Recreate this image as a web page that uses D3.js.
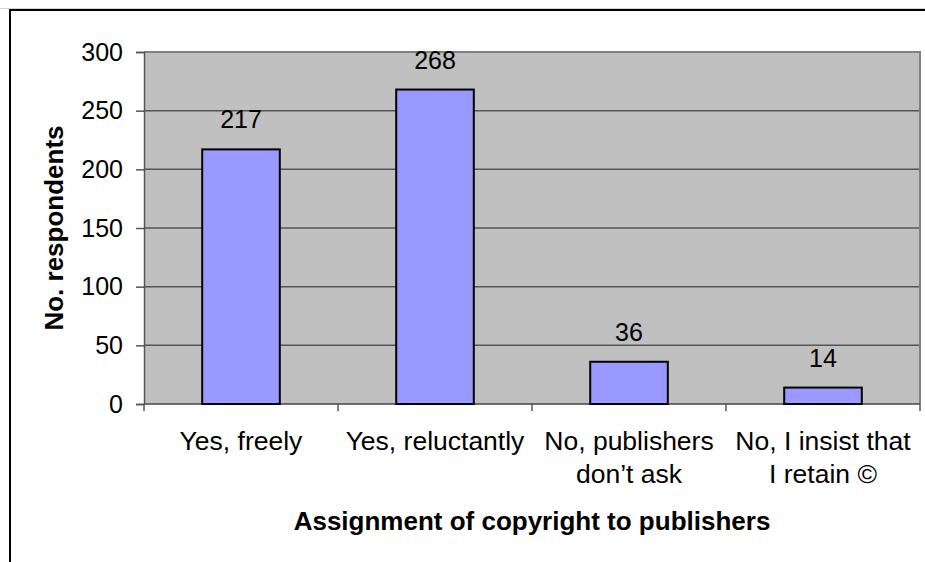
<!DOCTYPE html>
<html>
<head>
<meta charset="utf-8">
<script src="https://cdn.jsdelivr.net/npm/d3@7"></script>
<style>
  body { margin: 0; background: #fff; }
  svg text { font-family: "Liberation Sans", Arial, sans-serif; fill: #000; }
</style>
</head>
<body>
<div class="copyright-chart"></div>
<script>
// chart data
const categories = ["Yes, freely", "Yes, reluctantly", "No, publishers don’t ask", "No, I insist that I retain ©"];
const category_lines = [["Yes, freely"], ["Yes, reluctantly"], ["No, publishers", "don’t ask"], ["No, I insist that", "I retain ©"]];
const respondents = [217, 268, 36, 14];
const y_ticks = [0, 50, 100, 150, 200, 250, 300];

const width = 925;
const height = 562;
const plot = {left: 144, right: 920, top: 52, bottom: 404};

const svg = d3.select(".copyright-chart")
    .append("svg")
    .attr("width", width)
    .attr("height", height);

// faint line at very top and the outer frame
svg.append("line")
    .attr("x1", 0).attr("x2", width)
    .attr("y1", 8.5).attr("y2", 8.5)
    .attr("stroke", "#d4d4d4")
    .attr("stroke-width", 1);

svg.append("path")
    .attr("d", `M10,${height + 5} V10 H${width + 5}`)
    .attr("fill", "none")
    .attr("stroke", "#000")
    .attr("stroke-width", 2);

const y = d3.scaleLinear()
    .domain([0, 300])
    .range([plot.bottom, plot.top]);

const xCat = d3.scaleBand()
    .domain(categories)
    .range([plot.left, plot.right])
    .padding(0);

const xBar = d3.scaleBand()
    .domain(categories)
    .range([plot.left, plot.right])
    .paddingInner(0.6)
    .paddingOuter(0.3);

// plot background
svg.append("rect")
    .attr("x", plot.left)
    .attr("y", plot.top)
    .attr("width", plot.right - plot.left)
    .attr("height", plot.bottom - plot.top)
    .attr("fill", "#c0c0c0");

// gridlines
svg.selectAll(".grid")
    .data(y_ticks.filter(d => d > 0 && d < 300))
    .enter()
    .append("line")
    .attr("class", "grid")
    .attr("x1", plot.left)
    .attr("x2", plot.right)
    .attr("y1", d => y(d))
    .attr("y2", d => y(d))
    .attr("stroke", "#555")
    .attr("stroke-width", 1.5);

// plot border (top + right)
svg.append("path")
    .attr("d", `M${plot.left},${plot.top} H${plot.right} V${plot.bottom}`)
    .attr("fill", "none")
    .attr("stroke", "#808080")
    .attr("stroke-width", 2);

// y axis
const yAxis = svg.append("g")
    .attr("transform", `translate(${plot.left},0)`)
    .call(d3.axisLeft(y).tickValues(y_ticks).tickSize(8).tickPadding(13));
yAxis.select(".domain").attr("stroke", "#555").attr("stroke-width", 1.5);
yAxis.selectAll(".tick line").attr("stroke", "#555").attr("stroke-width", 1.5);
yAxis.selectAll(".tick text")
    .attr("font-size", "25px")
    .attr("font-family", "Liberation Sans, Arial, sans-serif")
    .attr("fill", "#000");

// x axis baseline and ticks at category boundaries
svg.append("line")
    .attr("x1", plot.left)
    .attr("x2", plot.right)
    .attr("y1", plot.bottom)
    .attr("y2", plot.bottom)
    .attr("stroke", "#444")
    .attr("stroke-width", 1.5);

const boundaries = categories.map(c => xCat(c)).concat([xCat(categories[categories.length - 1]) + xCat.bandwidth()]);
svg.selectAll(".xtick")
    .data(boundaries)
    .enter()
    .append("line")
    .attr("class", "xtick")
    .attr("x1", d => d)
    .attr("x2", d => d)
    .attr("y1", plot.bottom)
    .attr("y2", plot.bottom + 7)
    .attr("stroke", "#555")
    .attr("stroke-width", 1.5);

// bars
svg.selectAll(".bar")
    .data(respondents)
    .enter()
    .append("rect")
    .attr("class", "bar")
    .attr("x", (d, i) => xBar(categories[i]))
    .attr("y", d => y(d))
    .attr("width", xBar.bandwidth())
    .attr("height", d => y(0) - y(d))
    .attr("fill", "#9999ff")
    .attr("stroke", "#000")
    .attr("stroke-width", 2);

// value labels
svg.selectAll(".data-label")
    .data(respondents)
    .enter()
    .append("text")
    .attr("class", "data-label")
    .attr("text-anchor", "middle")
    .attr("x", (d, i) => xBar(categories[i]) + xBar.bandwidth() / 2)
    .attr("y", d => y(d) - 21)
    .attr("font-size", "25px")
    .text(d => d);

// category labels
categories.forEach(function(c, i){
    const t = svg.append("text")
        .attr("text-anchor", "middle")
        .attr("font-size", "26.5px")
        .attr("x", xCat(c) + xCat.bandwidth() / 2)
        .attr("y", 450);
    category_lines[i].forEach(function(line, j){
        t.append("tspan")
            .attr("x", xCat(c) + xCat.bandwidth() / 2)
            .attr("dy", j == 0 ? 0 : 33)
            .text(line);
    });
});

// axis titles
svg.append("text")
    .attr("text-anchor", "middle")
    .attr("font-size", "26px")
    .attr("font-weight", "bold")
    .attr("x", (plot.left + plot.right) / 2)
    .attr("y", 530)
    .text("Assignment of copyright to publishers");

svg.append("text")
    .attr("text-anchor", "middle")
    .attr("font-size", "26px")
    .attr("font-weight", "bold")
    .attr("transform", `translate(63,${(plot.top + plot.bottom) / 2}) rotate(-90)`)
    .text("No. respondents");
</script>
</body>
</html>
